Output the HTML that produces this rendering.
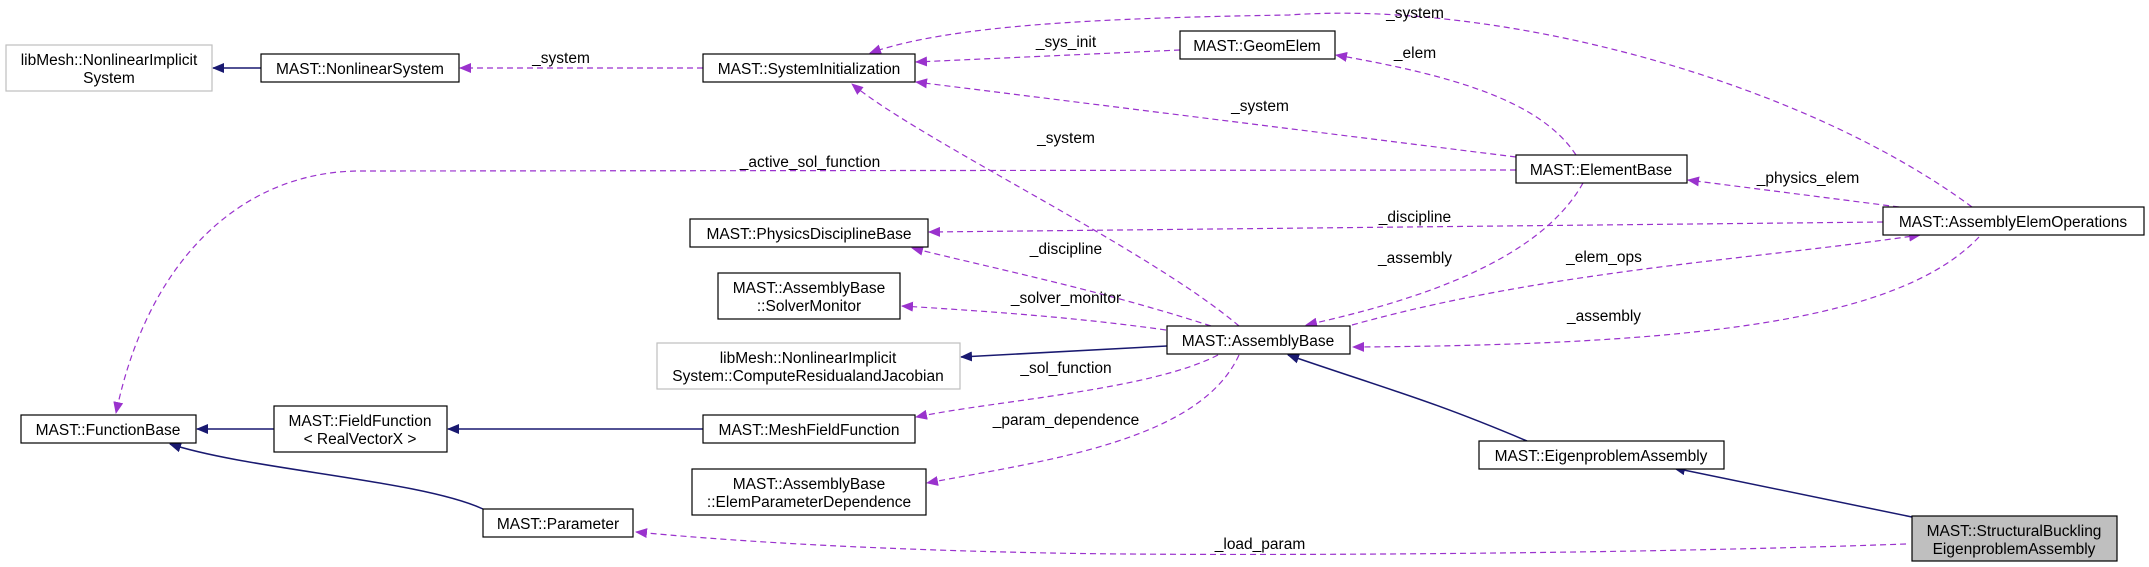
<!DOCTYPE html>
<html><head><meta charset="utf-8"><style>
html,body{margin:0;padding:0;background:#fff;}
svg{display:block;}
text{font-family:"Liberation Sans",Arial,sans-serif;font-size:15.5px;fill:#000;}
.b{fill:#fff;stroke:#000;stroke-width:1.2;}
.g{fill:#fff;stroke:#bfbfbf;stroke-width:1.2;}
.d{fill:none;stroke:#9a32cd;stroke-width:1.2;stroke-dasharray:6,4;}
.s{fill:none;stroke:#191970;stroke-width:1.5;}
</style></head><body>
<svg width="2149" height="567" viewBox="0 0 2149 567" xmlns="http://www.w3.org/2000/svg">
<defs>
<marker id="ap" markerWidth="12" markerHeight="10" refX="11" refY="5" orient="auto" markerUnits="userSpaceOnUse"><path d="M0,0 L12,5 L0,10 z" fill="#9a32cd"/></marker>
<marker id="an" markerWidth="12" markerHeight="10" refX="11" refY="5" orient="auto" markerUnits="userSpaceOnUse"><path d="M0,0 L12,5 L0,10 z" fill="#191970"/></marker>
</defs>

<path class="s" d="M261,68 L213,68" marker-end="url(#an)"/>
<path class="s" d="M1167,346 L961,357" marker-end="url(#an)"/>
<path class="s" d="M274,429 L197,429" marker-end="url(#an)"/>
<path class="s" d="M703,429 L448,429" marker-end="url(#an)"/>
<path class="s" d="M483,509 C420,480 250,470 170,444" marker-end="url(#an)"/>
<path class="s" d="M1527,441 C1430,400 1390,390 1288,355" marker-end="url(#an)"/>
<path class="s" d="M1912,517 L1674,468" marker-end="url(#an)"/>

<path class="d" d="M703,68 L460,68" marker-end="url(#ap)"/>
<path class="d" d="M1180,50 L916,62" marker-end="url(#ap)"/>
<path class="d" d="M1516,157 L916,82" marker-end="url(#ap)"/>
<path class="d" d="M1972,207 C1800,80 1500,0 1289,15 C1100,18 950,25 870,53" marker-end="url(#ap)"/>
<path class="d" d="M1576,155 C1540,100 1450,75 1336,55" marker-end="url(#ap)"/>
<path class="d" d="M1239,326 C1150,250 920,140 852,84" marker-end="url(#ap)"/>
<path class="d" d="M1516,170 L360,171 C250,171 150,250 116,413" marker-end="url(#ap)"/>
<path class="d" d="M1899,207 L1688,180" marker-end="url(#ap)"/>
<path class="d" d="M1883,222 L929,232" marker-end="url(#ap)"/>
<path class="d" d="M1211,326 C1100,290 1000,270 912,248" marker-end="url(#ap)"/>
<path class="d" d="M1583,183 C1540,260 1420,300 1306,325" marker-end="url(#ap)"/>
<path class="d" d="M1352,325 C1550,270 1750,260 1920,235" marker-end="url(#ap)"/>
<path class="d" d="M1979,237 C1900,320 1700,345 1353,347" marker-end="url(#ap)"/>
<path class="d" d="M1166,330 C1080,318 1000,312 902,306" marker-end="url(#ap)"/>
<path class="d" d="M1218,355 C1150,390 1000,400 916,417" marker-end="url(#ap)"/>
<path class="d" d="M1239,355 C1200,440 1050,460 927,483" marker-end="url(#ap)"/>
<path class="d" d="M1906,544 C1600,555 1200,556 1050,553 C850,549 720,540 636,532" marker-end="url(#ap)"/>

<g text-anchor="middle">
<text x="561" y="63">_system</text>
<text x="1066" y="47">_sys_init</text>
<text x="1415" y="18">_system</text>
<text x="1415" y="58">_elem</text>
<text x="1260" y="111">_system</text>
<text x="1066" y="143">_system</text>
<text x="810" y="167">_active_sol_function</text>
<text x="1808" y="183">_physics_elem</text>
<text x="1415" y="222">_discipline</text>
<text x="1066" y="254">_discipline</text>
<text x="1415" y="263">_assembly</text>
<text x="1604" y="262">_elem_ops</text>
<text x="1066" y="303">_solver_monitor</text>
<text x="1604" y="321">_assembly</text>
<text x="1066" y="373">_sol_function</text>
<text x="1066" y="425">_param_dependence</text>
<text x="1260" y="549">_load_param</text>
</g>

<g text-anchor="middle">
<rect class="g" x="6" y="45" width="206" height="46"/>
<text x="109" y="65">libMesh::NonlinearImplicit</text><text x="109" y="83">System</text>

<rect class="b" x="261" y="54" width="198" height="28"/>
<text x="360" y="74">MAST::NonlinearSystem</text>

<rect class="b" x="703" y="54" width="212" height="28"/>
<text x="809" y="74">MAST::SystemInitialization</text>

<rect class="b" x="1180" y="31" width="155" height="28"/>
<text x="1257" y="51">MAST::GeomElem</text>

<rect class="b" x="1516" y="155" width="171" height="28"/>
<text x="1601" y="175">MAST::ElementBase</text>

<rect class="b" x="1883" y="207" width="261" height="28"/>
<text x="2013" y="227">MAST::AssemblyElemOperations</text>

<rect class="b" x="690" y="219" width="238" height="28"/>
<text x="809" y="239">MAST::PhysicsDisciplineBase</text>

<rect class="b" x="718" y="273" width="182" height="46"/>
<text x="809" y="293">MAST::AssemblyBase</text><text x="809" y="311">::SolverMonitor</text>

<rect class="g" x="657" y="343" width="303" height="46"/>
<text x="808" y="363">libMesh::NonlinearImplicit</text><text x="808" y="381">System::ComputeResidualandJacobian</text>

<rect class="b" x="1167" y="326" width="183" height="28"/>
<text x="1258" y="346">MAST::AssemblyBase</text>

<rect class="b" x="21" y="415" width="175" height="28"/>
<text x="108" y="435">MAST::FunctionBase</text>

<rect class="b" x="274" y="406" width="173" height="46"/>
<text x="360" y="426">MAST::FieldFunction</text><text x="360" y="444">&lt; RealVectorX &gt;</text>

<rect class="b" x="703" y="415" width="212" height="28"/>
<text x="809" y="435">MAST::MeshFieldFunction</text>

<rect class="b" x="692" y="469" width="234" height="46"/>
<text x="809" y="489">MAST::AssemblyBase</text><text x="809" y="507">::ElemParameterDependence</text>

<rect class="b" x="1479" y="441" width="245" height="28"/>
<text x="1601" y="461">MAST::EigenproblemAssembly</text>

<rect class="b" x="483" y="509" width="150" height="28"/>
<text x="558" y="529">MAST::Parameter</text>

<rect x="1912" y="516" width="205" height="45" fill="#bfbfbf" stroke="#000" stroke-width="1.2"/>
<text x="2014" y="536">MAST::StructuralBuckling</text><text x="2014" y="554">EigenproblemAssembly</text>
</g>
</svg>
</body></html>
